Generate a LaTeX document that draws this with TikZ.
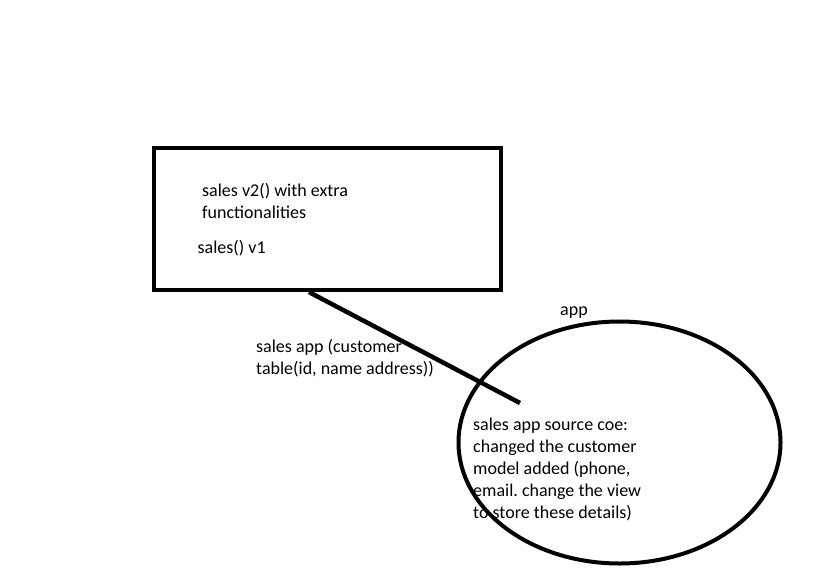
\documentclass[tikz,border=0pt]{standalone}
\usepackage{fontspec}
\setmainfont{Carlito}
\frenchspacing
\usetikzlibrary{calc,shapes.geometric}
\tikzset{
  note/.style={inner sep=0pt, anchor=base west, align=left, font=\fontsize{18}{22}\selectfont},
  thick line/.style={line width=4pt},
}
\begin{document}
\begin{tikzpicture}[x=1pt,y=-1pt]
				\useasboundingbox (0,0) rectangle (819,576);
				
				\node[draw, thick line, minimum width=347pt, minimum height=142pt, inner sep=0pt] (box) at (327.5,219) {};
				\node[note] (vtwo) at (202,218) {sales v2() with extra\\functionalities};
				\node[note] (vone) at (197.5,253) {sales() v1};
				
				\node[draw, thick line, ellipse, minimum width=322pt, minimum height=242pt, inner sep=0pt] (app) at (619.5,442.5) {};
				\node[note] (applabel) at (560,315) {app};
				\node[note] (source) at (473,518) {sales app source coe:\\changed the customer\\model added (phone,\\email. change the view\\to store these details)};
				
				\coordinate (linestart) at ($(box.south west)!0.447!(box.south east)$);
				\coordinate (lineend) at (520,403);
				\draw[line width=4.5pt] (linestart) -- (lineend);
				\node[note] (salesapp) at (256,374) {sales app (customer\\table(id, name address))};
			\end{tikzpicture}
\end{document}
